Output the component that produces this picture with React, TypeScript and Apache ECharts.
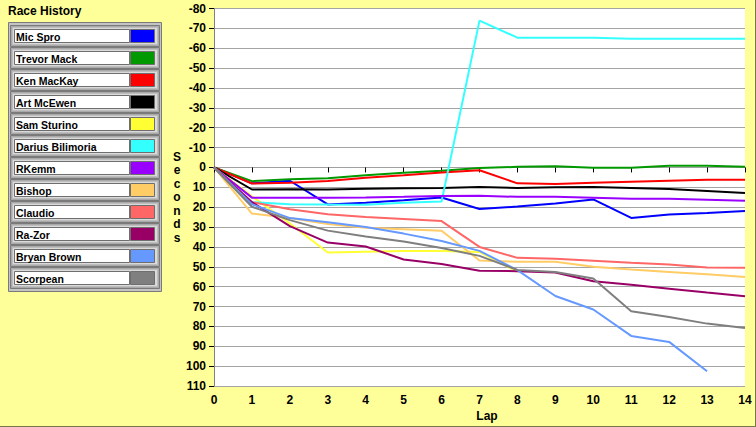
import React, { useEffect, useRef } from "react";
import * as echarts from "echarts";

const laps = ["0", "1", "2", "3", "4", "5", "6", "7", "8", "9", "10", "11", "12", "13", "14"];

const driverNames = [
  "Mic Spro",
  "Trevor Mack",
  "Ken MacKay",
  "Art McEwen",
  "Sam Sturino",
  "Darius Bilimoria",
  "RKemm",
  "Bishop",
  "Claudio",
  "Ra-Zor",
  "Bryan Brown",
  "Scorpean",
];

const driverColors = [
  "#0000FF",
  "#009900",
  "#FF0000",
  "#000000",
  "#FFFF33",
  "#33FFFF",
  "#9900FF",
  "#FFCC66",
  "#FF6666",
  "#990066",
  "#6699FF",
  "#7F7F7F",
];

// seconds behind the leader per lap (negative = ahead)
const micSpro = [0, 8, 6.7, 18.6, 17.8, 16.5, 15.1, 20.9, 19.7, 18.1, 16.1, 25.4, 23.7, 22.9, 21.9];
const trevorMack = [0, 6.9, 6, 5.4, 3.9, 2.7, 1.7, 0.3, -0.3, -0.6, 0.2, 0.2, -0.8, -0.8, -0.3];
const kenMacKay = [0, 8.1, 7.7, 6.8, 5.2, 3.9, 2.5, 1.4, 8, 8.3, 7.7, 7.2, 6.7, 6.2, 6.2];
const artMcEwen = [0, 11.1, 11, 11.1, 10.7, 10.5, 10.3, 9.8, 10.3, 10, 9.8, 10.3, 10.8, 11.8, 12.8];
const samSturino = [0, 14.5, 28.2, 42.8, 42.4, 42, 42, 42.5, 52.5];
const dariusBilimoria = [0, 17.5, 18.5, 18.7, 18.8, 17.8, 17.1, -73.9, -65.3, -65.3, -65.3, -64.8, -64.8, -64.8, -64.8];
const rKemm = [0, 15.2, 15.3, 15.3, 15.1, 14.8, 14.4, 14.3, 14.8, 14.8, 15.3, 15.8, 15.8, 16.3, 16.8];
const bishop = [0, 23.2, 25.5, 28.5, 30.3, 31.1, 31.9, 46.8, 47.5, 47.5, 50, 51.4, 52.6, 53.8, 55.1];
const claudio = [0, 17.5, 21, 23.5, 25, 26, 27, 40, 45.5, 46, 47, 48, 48.9, 50.4, 50.5];
const raZor = [0, 17.5, 29.5, 37.8, 39.8, 46.3, 48.6, 52, 52.2, 52.9, 57.3, 59, 61, 63, 64.8];
const bryanBrown = [0, 18.5, 25.5, 27.6, 30, 33.3, 37, 42, 51.7, 64.7, 71.5, 84.8, 87.8, 102.6];
const scorpean = [0, 19.8, 26.5, 31.8, 34.7, 37.3, 40.5, 44.5, 51.6, 52.6, 55.9, 72.4, 75.3, 78.6, 80.8];

const seriesValues = [
  micSpro,
  trevorMack,
  kenMacKay,
  artMcEwen,
  samSturino,
  dariusBilimoria,
  rKemm,
  bishop,
  claudio,
  raZor,
  bryanBrown,
  scorpean,
];

const yMin = -80;
const yMax = 110;
const yStep = 10;

const FONT = '"Liberation Sans", Arial, sans-serif';

export default function App() {
  const ref = useRef<HTMLDivElement>(null);

  useEffect(() => {
    if (!ref.current) return;
    const chart = echarts.init(ref.current, null, { renderer: "svg" });

    const legendEls: any[] = [];
    legendEls.push({
      type: "text",
      left: 8,
      top: 5,
      style: { text: "Race History", font: `bold 12px ${FONT}`, fill: "#000" },
    });
    legendEls.push({
      type: "rect",
      shape: { x: 8.5, y: 22.5, width: 153, height: 269 },
      style: { fill: "#C4C4C4", stroke: "#7A7A7A", lineWidth: 1 },
    });
    driverNames.forEach((name, i) => {
      const y0 = 25.5 + 22 * i;
      legendEls.push({
        type: "rect",
        shape: { x: 10.5, y: y0, width: 149, height: 21 },
        style: { fill: "#A9A9A9", stroke: "#7A7A7A", lineWidth: 1 },
      });
      legendEls.push({
        type: "rect",
        shape: { x: 12.5, y: y0 + 2, width: 145, height: 17 },
        style: { fill: "#DADADA", stroke: "#BDBDBD", lineWidth: 1 },
      });
      legendEls.push({
        type: "rect",
        shape: { x: 14.5, y: y0 + 4, width: 115, height: 13 },
        style: { fill: "#FFFFFF", stroke: "#6E6E6E", lineWidth: 1 },
      });
      legendEls.push({
        type: "rect",
        shape: { x: 130.5, y: y0 + 4, width: 24, height: 13 },
        style: { fill: driverColors[i], stroke: "#6E6E6E", lineWidth: 1 },
      });
      legendEls.push({
        type: "text",
        x: 16,
        y: y0 + 11,
        style: {
          text: name,
          font: `bold 10.5px ${FONT}`,
          fill: "#000",
          textVerticalAlign: "middle",
          verticalAlign: "middle",
        },
      });
    });

    const option: any = {
      animation: false,
      backgroundColor: "#FFFF99",
      grid: {
        left: 214,
        top: 8.5,
        right: 11,
        bottom: 41,
        show: true,
        backgroundColor: "#FFFFFF",
        borderWidth: 0,
      },
      xAxis: {
        type: "category",
        data: laps,
        boundaryGap: false,
        axisLine: { show: true, lineStyle: { color: "#A0A0A0", width: 1 } },
        axisTick: { show: true, length: 5, lineStyle: { color: "#000" } },
        axisLabel: {
          color: "#000",
          fontFamily: FONT,
          fontWeight: "bold",
          fontSize: 12,
          margin: 8,
        },
        splitLine: { show: false },
      },
      yAxis: {
        type: "value",
        inverse: true,
        min: yMin,
        max: yMax,
        interval: yStep,
        axisLine: { show: true, lineStyle: { color: "#808080", width: 1 } },
        axisTick: { show: true, length: 5, lineStyle: { color: "#000" } },
        axisLabel: {
          color: "#000",
          fontFamily: FONT,
          fontWeight: "bold",
          fontSize: 12,
          margin: 8,
        },
        splitLine: { show: true, lineStyle: { color: "#A4A4A4", width: 1 } },
      },
      series: seriesValues.map((vals, i) => ({
        name: driverNames[i],
        type: "line",
        data: vals,
        showSymbol: false,
        symbol: "none",
        lineStyle: { color: driverColors[i], width: 2 },
        itemStyle: { color: driverColors[i] },
        z: 2,
      })),
      graphic: [
        ...legendEls,
        {
          type: "text",
          x: 177,
          y: 197,
          style: {
            text: "S\ne\nc\no\nn\nd\ns",
            font: `bold 12px ${FONT}`,
            fill: "#000",
            align: "center",
            textAlign: "center",
            verticalAlign: "middle",
            textVerticalAlign: "middle",
            lineHeight: 13.5,
          },
        },
        {
          type: "text",
          x: 487,
          y: 416,
          style: {
            text: "Lap",
            font: `bold 12px ${FONT}`,
            fill: "#000",
            align: "center",
            textAlign: "center",
            verticalAlign: "middle",
            textVerticalAlign: "middle",
          },
        },
        {
          type: "line",
          shape: { x1: 0, y1: 426.5, x2: 756, y2: 426.5 },
          style: { stroke: "#77774A", lineWidth: 1 },
        },
        {
          type: "line",
          shape: { x1: 755.5, y1: 0, x2: 755.5, y2: 427 },
          style: { stroke: "#77774A", lineWidth: 1 },
        },
      ],
    };

    chart.setOption(option);
    return () => chart.dispose();
  }, []);

  return (
    <div
      ref={ref}
      style={{ position: "fixed", left: 0, top: 0, width: 756, height: 427 }}
    />
  );
}
